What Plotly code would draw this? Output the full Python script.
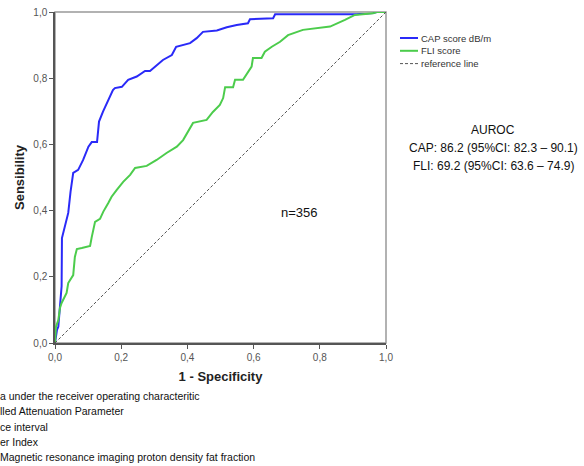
import plotly.graph_objects as go

# Data
cap_fpr = [0.0, 0.003, 0.006, 0.010, 0.015, 0.020, 0.021, 0.027, 0.040, 0.047, 0.055, 0.070, 0.085,
           0.101, 0.111, 0.127, 0.133, 0.145, 0.156, 0.175, 0.181, 0.202, 0.221, 0.247, 0.272, 0.287,
           0.326, 0.353, 0.366, 0.387, 0.408, 0.428, 0.447, 0.489, 0.519, 0.549, 0.583, 0.589, 0.659,
           0.665, 0.911, 0.961, 0.972, 1.0]
cap_tpr = [0.0, 0.018, 0.040, 0.049, 0.121, 0.172, 0.317, 0.341, 0.393, 0.457, 0.514, 0.523, 0.553,
           0.593, 0.607, 0.607, 0.669, 0.699, 0.722, 0.764, 0.770, 0.774, 0.795, 0.805, 0.822, 0.822,
           0.855, 0.870, 0.895, 0.900, 0.906, 0.921, 0.940, 0.944, 0.954, 0.961, 0.966, 0.978, 0.981,
           0.993, 0.993, 0.997, 1.0, 1.0]

fli_fpr = [0.0, 0.002, 0.003, 0.010, 0.015, 0.020, 0.030, 0.035, 0.040, 0.045, 0.055, 0.060, 0.066,
           0.081, 0.106, 0.111, 0.121, 0.136, 0.146, 0.161, 0.171, 0.186, 0.206, 0.227, 0.242, 0.277,
           0.307, 0.337, 0.368, 0.387, 0.408, 0.417, 0.458, 0.477, 0.498, 0.508, 0.514, 0.538, 0.544,
           0.568, 0.594, 0.598, 0.624, 0.634, 0.655, 0.680, 0.704, 0.749, 0.831, 0.855, 0.876, 0.906,
           0.961, 0.972, 1.0]
fli_tpr = [0.0, 0.030, 0.049, 0.069, 0.106, 0.121, 0.139, 0.151, 0.181, 0.190, 0.205, 0.260, 0.284,
           0.287, 0.293, 0.320, 0.366, 0.375, 0.397, 0.423, 0.442, 0.462, 0.487, 0.508, 0.529, 0.535,
           0.553, 0.574, 0.593, 0.613, 0.650, 0.665, 0.674, 0.698, 0.719, 0.740, 0.773, 0.773, 0.795,
           0.795, 0.835, 0.861, 0.861, 0.880, 0.895, 0.910, 0.930, 0.946, 0.956, 0.966, 0.976, 0.991,
           0.996, 1.0, 1.0]

ref_x = [0.0, 1.0]
ref_y = [0.0, 1.0]

tick_vals = [0.0, 0.2, 0.4, 0.6, 0.8, 1.0]
tick_text = ["0,0", "0,2", "0,4", "0,6", "0,8", "1,0"]

series_names = ["CAP score dB/m", "FLI score", "reference line"]
series_colors = ["#2a2af8", "#4ccc4c", "#555555"]
series_dash = ["solid", "solid", "3px,2px"]
series_width = [2, 2, 1]

auroc_lines = ["AUROC", "CAP: 86.2 (95%CI: 82.3 – 90.1)", "FLI: 69.2 (95%CI: 63.6 – 74.9)"]
n_label = "n=356"
footnotes = ["a under the receiver operating characteritic",
             "lled Attenuation Parameter",
             "ce interval",
             "er Index",
             "Magnetic resonance imaging proton density fat fraction"]

FONT = "Liberation Sans, Arial, sans-serif"
L, R, T, B = 55, 198, 12, 123
PW, PH = 584 - L - R, 466 - T - B


def px(xp):
    return (xp - L) / PW


def py(yp):
    return (466 - B - yp) / PH


fig = go.Figure()
for xs, ys, i in [(cap_fpr, cap_tpr, 0), (fli_fpr, fli_tpr, 1), (ref_x, ref_y, 2)]:
    fig.add_trace(go.Scatter(x=xs, y=ys, mode="lines", name=series_names[i], showlegend=False,
                             line=dict(color=series_colors[i], width=series_width[i], dash=series_dash[i])))

axis_common = dict(range=[0, 1], tickvals=tick_vals, ticktext=tick_text, showgrid=False,
                   zeroline=False, showline=True, linecolor="#555555", linewidth=1.5,
                   ticks="outside", ticklen=4, tickcolor="#555555", automargin=False,
                   tickfont=dict(family=FONT, size=10, color="#555555"))

fig.update_layout(
    width=584, height=466,
    margin=dict(l=L, r=R, t=T, b=B),
    plot_bgcolor="white", paper_bgcolor="white",
    xaxis=dict(**axis_common, title=dict(text="<b>1 - Specificity</b>", standoff=10,
                                          font=dict(family=FONT, size=13, color="#222"))),
    yaxis=dict(**axis_common, title=dict(text="<b>Sensibility</b>", standoff=6,
                                          font=dict(family=FONT, size=13, color="#222"))),
    showlegend=False,
)

# light frame top/right
fig.add_shape(type="rect", xref="paper", yref="paper", x0=0, y0=0, x1=1, y1=1,
              line=dict(color="#999999", width=1.5), layer="below")

# legend (custom, compact)
for i, name in enumerate(series_names):
    yy = py(38 + i * 12.8)
    fig.add_shape(type="line", xref="paper", yref="paper", x0=px(400), x1=px(418), y0=yy, y1=yy,
                  line=dict(color=series_colors[i], width=series_width[i] if i < 2 else 1,
                            dash=series_dash[i]))
    fig.add_annotation(xref="paper", yref="paper", x=px(419), y=yy, xanchor="left", yanchor="middle",
                       text=name, showarrow=False, font=dict(family=FONT, size=9.5, color="#333"))

for i, t in enumerate(auroc_lines):
    fig.add_annotation(xref="paper", yref="paper", x=px(493), y=py(130 + i * 18), xanchor="center",
                       yanchor="middle", text=t, showarrow=False,
                       font=dict(family=FONT, size=12, color="#111"))

fig.add_annotation(xref="x", yref="y", x=0.74, y=0.395, text=n_label, showarrow=False,
                   font=dict(family=FONT, size=13, color="#111"))

for i, t in enumerate(footnotes):
    fig.add_annotation(xref="paper", yref="paper", x=px(-2), y=py(396 + i * 15.3),
                       xanchor="left", yanchor="middle", text=t, showarrow=False,
                       font=dict(family=FONT, size=10.5, color="#111"))

fig.write_html("out.html", config={"displayModeBar": False},
               post_script="document.body.style.margin='0';document.body.style.overflow='hidden';")
